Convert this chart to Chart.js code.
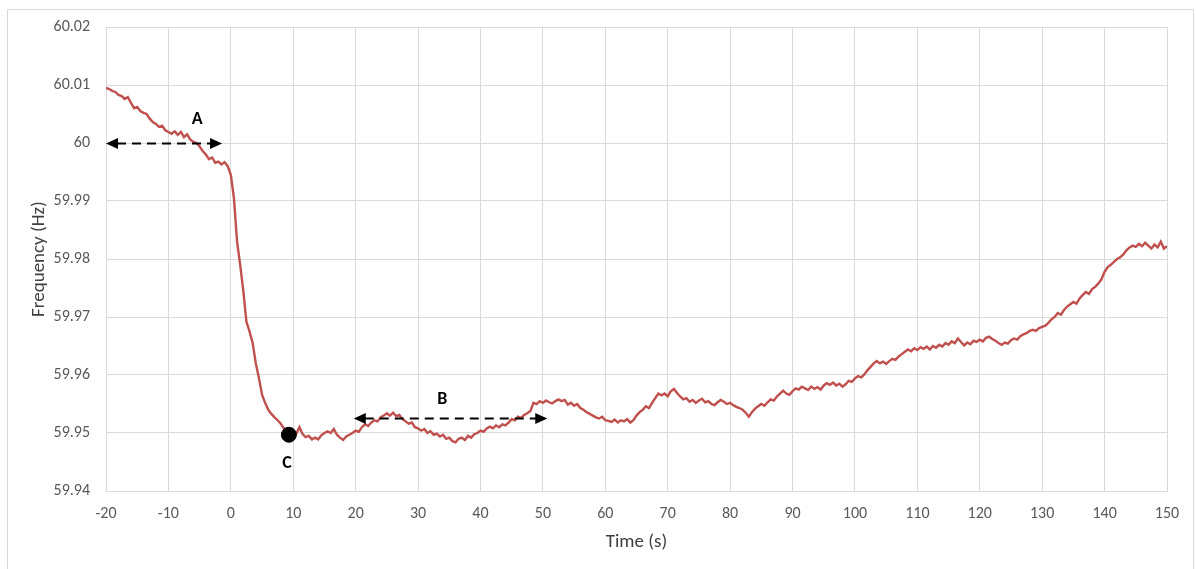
<!DOCTYPE html>
<html lang="en">
<head>
<meta charset="UTF-8" />
<title>Frequency (Hz) vs Time (s)</title>
<style>
  body {
    margin: 0;
    background: #fff;
  }
  #wrap {
    position: relative;
    width: 1196px;
    height: 569px;
    overflow: hidden;
  }
  #frame {
    position: absolute;
    left: 7px;
    top: 9px;
    width: 1185px;
    height: 600px;
    border: 1px solid #d9d9d9;
    pointer-events: none;
  }
  canvas {
    position: absolute;
    left: 0;
    top: 0;
  }
</style>
</head>
<body>
<div id="wrap">
  <canvas id="chart" width="1196" height="569"></canvas>
  <div id="frame"></div>
</div>

<script src="https://cdn.jsdelivr.net/npm/chart.js"></script>
<script>
// time axis: one sample every 0.5 s from -20 s
const startTime = -20;
const sampleStep = 0.5;

// frequency readings (Hz)
const freq = [
  // -20 .. -10.5
  60.0095, 60.0093, 60.0090, 60.0088, 60.0083, 60.0081, 60.0076, 60.0079, 60.0069, 60.0060,
  60.0062, 60.0055, 60.0052, 60.0050, 60.0042, 60.0036, 60.0033, 60.0028, 60.0030, 60.0022,
  // -10 .. -0.5
  60.0019, 60.0016, 60.0020, 60.0014, 60.0019, 60.0010, 60.0015, 60.0006, 60.0002, 60.0000,
  59.9994, 59.9986, 59.9980, 59.9972, 59.9975, 59.9966, 59.9968, 59.9963, 59.9967, 59.9960,
  // 0 .. 9.5
  59.9945, 59.9905, 59.9830, 59.9790, 59.9745, 59.9692, 59.9675, 59.9655, 59.9620, 59.9595,
  59.9566, 59.9552, 59.9540, 59.9533, 59.9527, 59.9522, 59.9516, 59.9508, 59.9500, 59.9497,
  // 10 .. 19.5
  59.9503, 59.9499, 59.9510, 59.9498, 59.9493, 59.9495, 59.9489, 59.9492, 59.9489, 59.9496,
  59.9500, 59.9503, 59.9500, 59.9507, 59.9497, 59.9492, 59.9488, 59.9494, 59.9497, 59.9500,
  // 20 .. 29.5
  59.9504, 59.9502, 59.9510, 59.9515, 59.9512, 59.9518, 59.9522, 59.9520, 59.9527, 59.9530,
  59.9534, 59.9530, 59.9535, 59.9529, 59.9531, 59.9524, 59.9520, 59.9516, 59.9518, 59.9510,
  // 30 .. 39.5
  59.9508, 59.9504, 59.9507, 59.9500, 59.9503, 59.9497, 59.9499, 59.9494, 59.9497, 59.9490,
  59.9492, 59.9486, 59.9484, 59.9490, 59.9492, 59.9488, 59.9495, 59.9492, 59.9498, 59.9500,
  // 40 .. 49.5
  59.9504, 59.9502, 59.9508, 59.9511, 59.9508, 59.9513, 59.9510, 59.9515, 59.9513, 59.9518,
  59.9524, 59.9522, 59.9528, 59.9526, 59.9531, 59.9534, 59.9538, 59.9552, 59.9550, 59.9555,
  // 50 .. 59.5
  59.9552, 59.9556, 59.9553, 59.9551, 59.9555, 59.9558, 59.9555, 59.9557, 59.9549, 59.9552,
  59.9547, 59.9550, 59.9543, 59.9540, 59.9536, 59.9533, 59.9530, 59.9527, 59.9525, 59.9528,
  // 60 .. 69.5
  59.9522, 59.9521, 59.9519, 59.9523, 59.9518, 59.9522, 59.9520, 59.9524, 59.9518, 59.9522,
  59.9530, 59.9536, 59.9540, 59.9546, 59.9543, 59.9552, 59.9560, 59.9568, 59.9565, 59.9568,
  // 70 .. 79.5
  59.9563, 59.9572, 59.9576, 59.9569, 59.9563, 59.9558, 59.9560, 59.9554, 59.9557, 59.9552,
  59.9556, 59.9559, 59.9553, 59.9555, 59.9550, 59.9548, 59.9553, 59.9557, 59.9554, 59.9550,
  // 80 .. 89.5
  59.9552, 59.9548, 59.9545, 59.9543, 59.9540, 59.9535, 59.9528, 59.9536, 59.9542, 59.9546,
  59.9550, 59.9547, 59.9553, 59.9558, 59.9556, 59.9563, 59.9568, 59.9573, 59.9568, 59.9566,
  // 90 .. 99.5
  59.9572, 59.9577, 59.9575, 59.9580, 59.9577, 59.9574, 59.9580, 59.9576, 59.9579, 59.9575,
  59.9582, 59.9586, 59.9583, 59.9587, 59.9582, 59.9585, 59.9580, 59.9584, 59.9590, 59.9588,
  // 100 .. 109.5
  59.9594, 59.9598, 59.9596, 59.9601, 59.9608, 59.9614, 59.9620, 59.9624, 59.9620, 59.9623,
  59.9619, 59.9624, 59.9628, 59.9626, 59.9632, 59.9636, 59.9640, 59.9644, 59.9641, 59.9646,
  // 110 .. 119.5
  59.9643, 59.9648, 59.9645, 59.9649, 59.9644, 59.9650, 59.9647, 59.9652, 59.9649, 59.9655,
  59.9652, 59.9658, 59.9655, 59.9663, 59.9657, 59.9651, 59.9656, 59.9653, 59.9659, 59.9657,
  // 120 .. 129.5
  59.9661, 59.9658, 59.9664, 59.9666, 59.9662, 59.9659, 59.9655, 59.9652, 59.9656, 59.9654,
  59.9660, 59.9663, 59.9661, 59.9667, 59.9670, 59.9672, 59.9676, 59.9678, 59.9676, 59.9681,
  // 130 .. 139.5
  59.9683, 59.9685, 59.9690, 59.9696, 59.9700, 59.9707, 59.9704, 59.9712, 59.9718, 59.9722,
  59.9726, 59.9723, 59.9732, 59.9738, 59.9743, 59.9740, 59.9748, 59.9752, 59.9758, 59.9765,
  // 140 .. 150
  59.9778, 59.9786, 59.9790, 59.9795, 59.9800, 59.9803, 59.9808, 59.9815, 59.9820, 59.9823,
  59.9821, 59.9826, 59.9822, 59.9828, 59.9823, 59.9818, 59.9825, 59.9820, 59.9830, 59.9818,
  59.9822
];

// axis ranges
const xMin = -20, xMax = 150, xStep = 10;
const yMin = 59.94, yMax = 60.02, yStep = 0.01;

// point C (nadir marker)
const markerX = [9.3];
const markerY = [59.9497];

// dashed double arrows A and B
const arrowFrom = [-20, 19.7];
const arrowTo = [-1.4, 50.7];
const arrowY = [60.0, 59.9526];

// letters next to the marks
const labelText = ['A', 'B', 'C'];
const labelX = [-5.4, 33.9, 9.0];
const labelY = [60.0040, 59.9557, 59.9447];

const FONT = 'Carlito, Lato, "Open Sans", sans-serif';

const points = freq.map((v, i) => ({ x: startTime + i * sampleStep, y: v }));

const annotate = {
  id: 'annotate',
  afterDatasetsDraw(chart) {
    const { ctx, scales: { x, y } } = chart;
    ctx.save();
    ctx.strokeStyle = '#000';
    ctx.fillStyle = '#000';

    function head(px, py, dir) {
      ctx.beginPath();
      ctx.moveTo(px, py);
      ctx.lineTo(px - dir * 12, py - 5.5);
      ctx.lineTo(px - dir * 12, py + 5.5);
      ctx.closePath();
      ctx.fill();
    }

    for (let i = 0; i < arrowFrom.length; i++) {
      const x1 = x.getPixelForValue(arrowFrom[i]);
      const x2 = x.getPixelForValue(arrowTo[i]);
      const py = Math.round(y.getPixelForValue(arrowY[i])) + 0.5;
      ctx.lineWidth = 2;
      ctx.setLineDash([9, 6]);
      ctx.beginPath();
      ctx.moveTo(x1 + 11, py);
      ctx.lineTo(x2 - 11, py);
      ctx.stroke();
      ctx.setLineDash([]);
      head(x1, py, -1);
      head(x2, py, 1);
    }

    ctx.font = 'bold 18px ' + FONT;
    ctx.textAlign = 'center';
    ctx.textBaseline = 'middle';
    for (let i = 0; i < labelText.length; i++) {
      ctx.fillText(labelText[i], x.getPixelForValue(labelX[i]), y.getPixelForValue(labelY[i]));
    }
    ctx.restore();
  }
};

new Chart(document.getElementById('chart'), {
  type: 'line',
  data: {
    datasets: [
      {
        data: points,
        borderColor: '#c0504d',
        borderWidth: 2.4,
        pointRadius: 0,
        tension: 0,
        fill: false,
        order: 2
      },
      {
        type: 'scatter',
        data: markerX.map((v, i) => ({ x: v, y: markerY[i] })),
        backgroundColor: '#000',
        borderColor: '#000',
        pointRadius: 7.5,
        pointHoverRadius: 7.5,
        order: 1
      }
    ]
  },
  options: {
    responsive: false,
    animation: false,
    events: [],
    layout: { padding: { left: 0, right: 29, top: 27, bottom: 0 } },
    plugins: {
      legend: { display: false },
      tooltip: { enabled: false }
    },
    scales: {
      x: {
        type: 'linear',
        min: xMin,
        max: xMax,
        afterFit(scale) { scale.height = 78; },
        grid: { color: '#d9d9d9', lineWidth: 1, drawTicks: false },
        border: { color: '#d9d9d9' },
        ticks: {
          stepSize: xStep,
          padding: 13,
          color: '#595959',
          font: { family: FONT, size: 16 },
          maxRotation: 0
        },
        title: {
          display: true,
          text: 'Time (s)',
          color: '#404040',
          font: { family: FONT, size: 19, lineHeight: 1 },
          padding: { top: 0, bottom: 17 }
        }
      },
      y: {
        min: yMin,
        max: yMax,
        afterFit(scale) { scale.width = 106; },
        grid: { color: '#d9d9d9', lineWidth: 1, drawTicks: false },
        border: { color: '#d9d9d9' },
        ticks: {
          stepSize: yStep,
          padding: 16,
          color: '#595959',
          font: { family: FONT, size: 16 },
          callback: v => String(Number(v.toFixed(2)))
        },
        title: {
          display: true,
          text: 'Frequency (Hz)',
          color: '#404040',
          font: { family: FONT, size: 19, lineHeight: 1 },
          padding: { top: 30, bottom: 0 }
        }
      }
    }
  },
  plugins: [annotate]
});
</script>
</body>
</html>
